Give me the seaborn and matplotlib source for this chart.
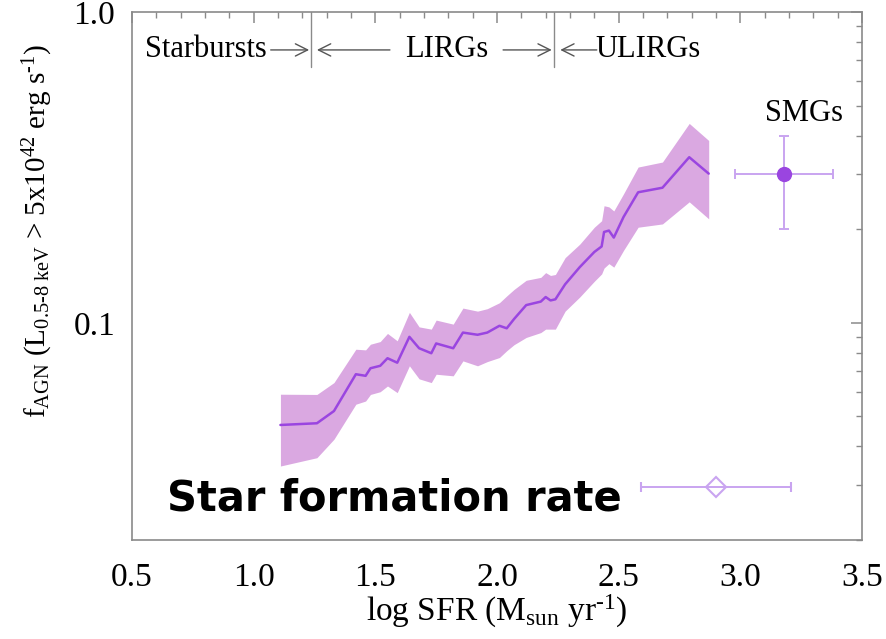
import numpy as np
import pandas as pd
import matplotlib
matplotlib.use("Agg")
import matplotlib.pyplot as plt
import matplotlib.ticker as mticker
import seaborn as sns

# ---- data ----
log_sfr = [1.11, 1.26, 1.33, 1.42, 1.46, 1.48, 1.52, 1.55, 1.59, 1.64, 1.68, 1.73,
           1.75, 1.82, 1.86, 1.92, 1.96, 2.01, 2.04, 2.07, 2.12, 2.18, 2.20, 2.22,
           2.24, 2.28, 2.34, 2.40, 2.43, 2.44, 2.46, 2.48, 2.52, 2.58, 2.68, 2.79, 2.87]
f_agn = [0.0469, 0.0475, 0.052, 0.0683, 0.0675, 0.0714, 0.0727, 0.0769, 0.0744, 0.0901,
         0.0828, 0.0798, 0.0858, 0.0828, 0.093, 0.0915, 0.093, 0.0978, 0.096, 0.1028,
         0.114, 0.117, 0.121, 0.118, 0.119, 0.133, 0.151, 0.169, 0.176, 0.196, 0.198,
         0.188, 0.219, 0.263, 0.272, 0.341, 0.302]
f_upper = [0.0589, 0.0588, 0.0642, 0.0822, 0.0818, 0.0853, 0.087, 0.0924, 0.0875, 0.108,
           0.097, 0.0954, 0.102, 0.099, 0.1115, 0.109, 0.111, 0.116, 0.122, 0.128,
           0.137, 0.140, 0.145, 0.142, 0.143, 0.162, 0.179, 0.203, 0.213, 0.238, 0.236,
           0.229, 0.260, 0.317, 0.329, 0.438, 0.386]
f_lower = [0.0346, 0.0368, 0.0422, 0.0547, 0.056, 0.0588, 0.060, 0.0626, 0.0596, 0.0727,
           0.066, 0.0642, 0.0683, 0.0675, 0.0754, 0.0727, 0.075, 0.0773, 0.0813, 0.085,
           0.0897, 0.093, 0.0954, 0.0954, 0.0954, 0.109, 0.121, 0.136, 0.1436, 0.150,
           0.155, 0.151, 0.171, 0.203, 0.208, 0.245, 0.216]

smg_x, smg_xerr = 3.18, 0.20
smg_y, smg_ylo, smg_yhi = 0.30, 0.10, 0.10
diam_x, diam_xerr, diam_y = 2.90, 0.31, 0.0296

boundaries = [1.236, 2.236]
x_ticks = [0.5, 1.0, 1.5, 2.0, 2.5, 3.0, 3.5]
y_ticks = [0.1, 1.0]

# ---- style ----
sns.set_theme(style="white")
plt.rcParams["font.family"] = ["Liberation Serif", "DejaVu Serif"]
plt.rcParams["mathtext.fontset"] = "custom"
plt.rcParams["mathtext.rm"] = "Liberation Serif"
plt.rcParams["mathtext.it"] = "Liberation Serif:italic"
plt.rcParams["text.color"] = "black"
plt.rcParams["axes.labelcolor"] = "black"

line_c = "#9a45e0"
band_c = "#daa8e1"
err_c = "#c9a4f0"
spine_c = "#8a8a8a"

fig = plt.figure(figsize=(8.87, 6.39), dpi=100)
ax = fig.add_axes([132/887, 1 - 540/639, 730/887, 528/639])

df = pd.DataFrame({"log_sfr": log_sfr, "f": f_agn, "lo": f_lower, "hi": f_upper})
ax.fill_between(df["log_sfr"], df["lo"], df["hi"], color=band_c, lw=0, zorder=1)
sns.lineplot(data=df, x="log_sfr", y="f", ax=ax, color=line_c, lw=1.8, zorder=2)

ax.errorbar([smg_x], [smg_y], xerr=[smg_xerr], yerr=[[smg_ylo], [smg_yhi]],
            fmt="o", color=line_c, ms=10, mec=line_c, ecolor=err_c, elinewidth=1.4,
            capsize=3.6, capthick=1.4, zorder=3)
ax.errorbar([diam_x], [diam_y], xerr=[diam_xerr], fmt="D", ms=10, mfc="none",
            mec=err_c, mew=1.5, ecolor=err_c, elinewidth=1.4, capsize=3.6,
            capthick=1.4, zorder=3)

ax.set_yscale("log")
ax.set_xlim(0.5, 3.5)
ax.set_ylim(0.02, 1.0)
ax.set_xticks(x_ticks)
ax.set_xticklabels([f"{v:.1f}" for v in x_ticks])
ax.xaxis.set_minor_locator(mticker.MultipleLocator(0.1))
ax.set_yticks(y_ticks)
ax.set_yticklabels([f"{v:.1f}" for v in y_ticks])
ax.yaxis.set_minor_locator(mticker.LogLocator(base=10, subs=np.arange(2, 10)))
ax.yaxis.set_minor_formatter(mticker.NullFormatter())

for s in ax.spines.values():
    s.set_color(spine_c)
    s.set_linewidth(1.2)
ax.tick_params(which="both", direction="in", top=True, right=True, colors=spine_c,
               labelcolor="black", labelsize=24)
ax.tick_params(which="major", length=8, width=1.1)
ax.tick_params(which="minor", length=4, width=1.0)
ax.tick_params(axis="x", which="major", pad=16)
ax.tick_params(axis="y", which="major", pad=12)

ax.set_xlabel(r"log SFR (M$_{\rm sun}$ yr$^{\rm \text{-}1}$)", fontsize=24, labelpad=0)
ax.set_ylabel(r"f$_{\rm AGN}$ (L$_{\rm 0.5\text{-}8\ keV}$ > 5x10$^{\rm 42}$ erg s$^{\rm \text{-}1}$)",
              fontsize=21)
ax.yaxis.set_label_coords(-0.105, 0.585)

# class boundaries and labels
for b in boundaries:
    ax.plot([b, b], [0.665, 1.0], color=spine_c, lw=1.0, zorder=2)
ty = 0.755
ax.text(0.555, ty, "Starbursts", fontsize=22, va="center", ha="left")
ap = dict(arrowstyle="->", color="#555555", lw=1.0, shrinkA=0, shrinkB=0,
          mutation_scale=22)
ax.annotate("", xy=(1.228, ty), xytext=(1.07, ty), arrowprops=ap)
ax.annotate("", xy=(1.26, ty), xytext=(1.56, ty), arrowprops=ap)
ax.text(1.795, ty, "LIRGs", fontsize=22, va="center", ha="center")
ax.annotate("", xy=(2.225, ty), xytext=(2.025, ty), arrowprops=ap)
ax.annotate("", xy=(2.26, ty), xytext=(2.41, ty), arrowprops=ap)
ax.text(2.405, ty, "ULIRGs", fontsize=22, va="center", ha="left")
ax.text(3.26, 0.472, "SMGs", fontsize=22, va="center", ha="center")

ax.text(0.644, 0.0272, "Star formation rate", fontsize=30, fontweight="bold",
        family="DejaVu Sans", va="center", ha="left")

fig.savefig("out.png", dpi=100)
